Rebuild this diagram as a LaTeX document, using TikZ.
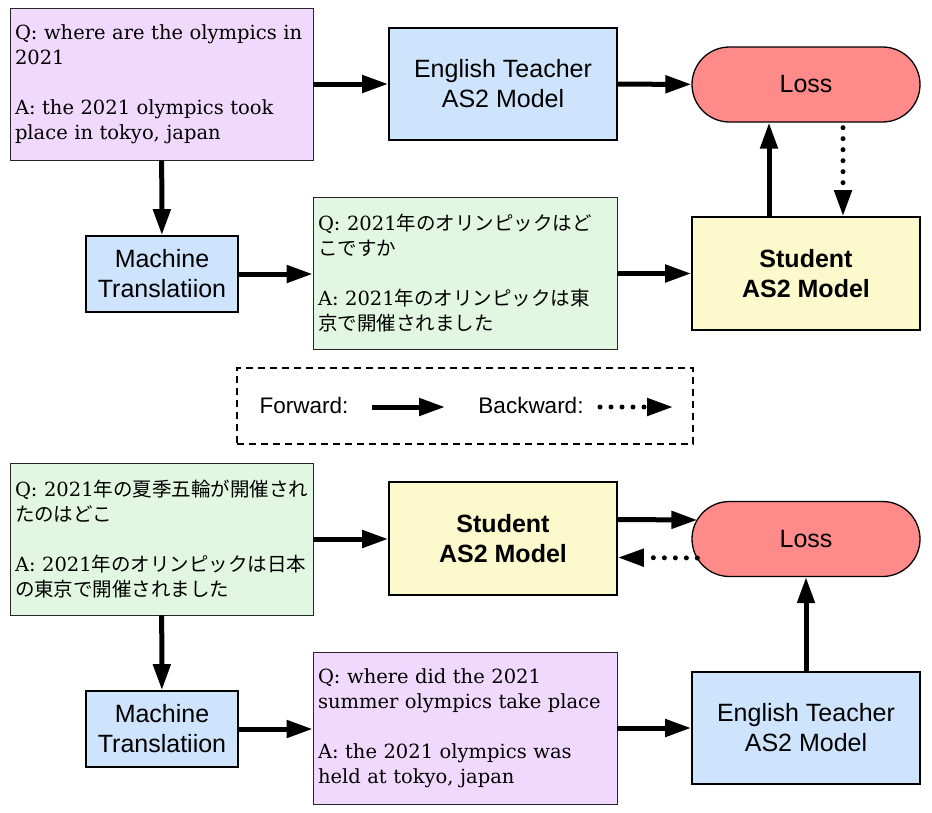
\documentclass[tikz,border=0pt]{standalone}
\usepackage{fontspec}
\setsansfont{Liberation Sans}
\newfontfamily\qafont{DejaVu Serif}
\newfontfamily\jpfont{Noto Sans CJK JP}
\usetikzlibrary{arrows.meta,calc}
\definecolor{qapurple}{RGB}{240,217,252}
\definecolor{qagreen}{RGB}{226,247,226}
\definecolor{mblue}{RGB}{206,227,252}
\definecolor{myellow}{RGB}{252,250,204}
\definecolor{lossred}{RGB}{255,138,138}
\tikzset{
  qabox/.style={draw=black!85, line width=0.8pt, minimum width=303pt, minimum height=152pt,
    text width=293pt, inner xsep=5pt, align=left, font=\qafont\fontsize{19.5}{25}\selectfont},
  model/.style={draw, line width=1.8pt, minimum width=228pt, minimum height=112pt,
    align=center, font=\sffamily\fontsize{25}{30}\selectfont},
  mtbox/.style={model, fill=mblue, minimum width=152pt, minimum height=76pt},
  lossbox/.style={draw, line width=1.3pt, fill=lossred, minimum width=228pt, minimum height=75pt,
    rounded corners=37.5pt, font=\sffamily\fontsize{25}{30}\selectfont},
  fwd/.style={line width=5pt, -{Triangle[length=26pt,width=17pt]}},
  bwd/.style={fwd, line cap=round, dash pattern=on 0pt off 11pt},
}
\begin{document}
\begin{tikzpicture}[x=1pt,y=-1pt]%distillation
\useasboundingbox (0,0) rectangle (932,812);
% upper half
\node[qabox, fill=qapurple] (tqa) at (161.5,84) {Q: where are the olympics in\\2021\\[25pt]A: the 2021 olympics took\\place in tokyo, japan};
\node[model, fill=mblue] (tteach) at (503,84) {English Teacher\\AS2 Model};
\node[lossbox] (tloss) at (806,84.5) {Loss};
\node[mtbox] (tmt) at (162,274) {Machine\\Translatiion};
\node[qabox, fill=qagreen, minimum width=304pt, text width=294pt] (tjp) at (465,273.5)
  {Q:~2021{\jpfont 年のオリンピックはど}\\{\jpfont こですか}\\[25pt]A:~2021{\jpfont 年のオリンピックは東}\\{\jpfont 京で開催されました}};
\node[model, fill=myellow, minimum height=113pt, font=\sffamily\bfseries\fontsize{25}{30}\selectfont] (tstud) at (806,273.5) {Student\\AS2 Model};
\draw[fwd] (tqa) -- (tteach);
\draw[fwd] (tteach) -- (tloss);
\draw[fwd] (tqa) -- (tmt);
\draw[fwd] (tmt) -- (tmt -| tjp.west);
\draw[fwd] (tjp.east |- tstud) -- (tstud);
\draw[fwd] ([xshift=-37pt]tstud.north) -- ([xshift=-37pt]tloss.south);
\draw[bwd] ([xshift=37pt,yshift=-5pt]tloss.south) -- ([xshift=37pt]tstud.north);
% legend
\node[draw, line width=1.3pt, dash pattern=on 7pt off 5pt, minimum width=456pt, minimum height=76pt] (legend) at (465,406) {};
\node[font=\sffamily\fontsize{22.5}{27}\selectfont] (fwdtext) at (304,405) {Forward:};
\node[font=\sffamily\fontsize{22.5}{27}\selectfont] (bwdtext) at (531,405) {Backward:};
\coordinate (f1) at (372,407); \coordinate (f2) at (445,407);
\coordinate (b1) at (600,407); \coordinate (b2) at (673,407);
\draw[fwd] (f1) -- (f2);
\draw[bwd] (b1) -- (b2);
% lower half
\node[qabox, fill=qagreen] (bjp) at (161.5,539)
  {Q:~2021{\jpfont 年の夏季五輪が開催され}\\{\jpfont たのはどこ}\\[25pt]A:~2021{\jpfont 年のオリンピックは日本}\\{\jpfont の東京で開催されました}};
\node[model, fill=myellow, minimum height=113pt, font=\sffamily\bfseries\fontsize{25}{30}\selectfont] (bstud) at (503,538.5) {Student\\AS2 Model};
\node[lossbox] (bloss) at (806,539) {Loss};
\node[mtbox] (bmt) at (162,729) {Machine\\Translatiion};
\node[qabox, fill=qapurple, minimum width=304pt, text width=294pt] (bqa) at (465,728.5)
  {Q: where did the 2021\\summer olympics take place\\[25pt]A: the 2021 olympics was\\held at tokyo, japan};
\node[model, fill=mblue] (bteach) at (806,728) {English Teacher\\AS2 Model};
\draw[fwd] (bjp) -- (bstud.west |- bjp);
\draw[fwd] ([yshift=19pt]bstud.east) -- ([yshift=19pt,xshift=6pt]bloss.west);
\draw[bwd] ([yshift=-19pt,xshift=6pt]bloss.west) -- ([yshift=-19pt]bstud.east);
\draw[fwd] (bjp) -- (bmt);
\draw[fwd] (bmt) -- (bmt -| bqa.west);
\draw[fwd] (bqa.east |- bteach) -- (bteach);
\draw[fwd] (bteach) -- (bloss);
\end{tikzpicture}
\end{document}
